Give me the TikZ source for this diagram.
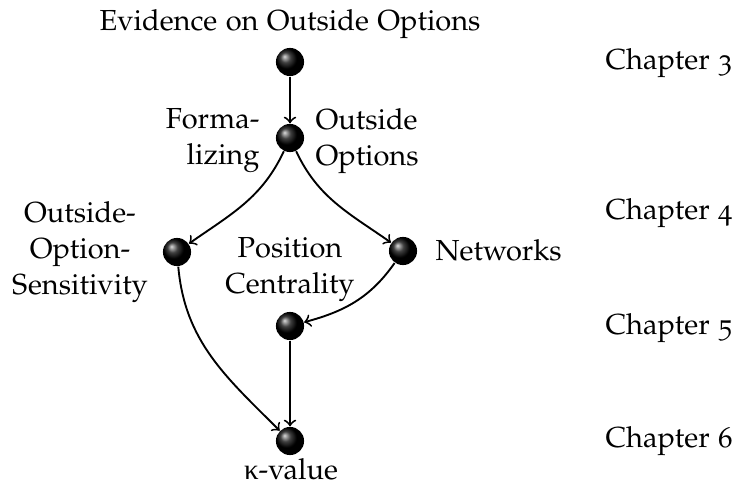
\documentclass[tikz,border=0pt]{standalone}
\usepackage{fontspec}
\newfontfamily\grkfont{Liberation Serif}
\usepackage[T1]{fontenc}
\usepackage[osf]{mathpazo}
\begin{document}
\begin{tikzpicture}[x=0.345pt,y=-0.345pt,
  every node/.style={font=\fontsize{10}{12.4}\selectfont},
  ballnode/.style={circle,shading=ball,ball color=black,minimum size=9.7pt,inner sep=0pt},
  lbl/.style={inner sep=0pt},
  conn/.style={->,line width=0.65pt}]
\useasboundingbox (0,0) rectangle (736,488);
% balls
\node[ballnode] (A) at (290,62) {};
\node[ballnode] (B) at (290,138) {};
\node[ballnode] (C) at (177,252) {};
\node[ballnode] (D) at (403,251) {};
\node[ballnode] (E) at (290,326) {};
\node[ballnode] (F) at (290,441) {};
% labels
\node[lbl,anchor=base] (tEv) at (290,31) {Evidence on Outside Options};
\node[lbl,anchor=east,align=right] (tForm) at (260,141) {Forma-\\lizing};
\node[lbl,anchor=west,align=left] (tOO) at (315,141) {Outside\\Options};
\node[lbl,align=center] (tOOS) at (80,252) {Outside-\\Option-\\Sensitivity};
\node[lbl,align=center] (tPC) at (290,270) {Position\\Centrality};
\node[lbl,anchor=base west] (tNet) at (435,261) {Networks};
\node[lbl,anchor=base] (tKap) at (291,479) {{\grkfont κ}-value};
\node[lbl,anchor=base west] (ch3) at (605,70) {Chapter 3};
\node[lbl,anchor=base west] (ch4) at (605,220) {Chapter 4};
\node[lbl,anchor=base west] (ch5) at (605,334) {Chapter 5};
\node[lbl,anchor=base west] (ch6) at (605,447) {Chapter 6};
% connectors
\draw[conn] (A) -- (B);
\draw[conn] (B) to[out=-115,in=35] (C);
\draw[conn] (B) to[out=-65,in=145] (D);
\draw[conn] (C) to[out=-85,in=135] (F);
\draw[conn] (D) to[out=-125,in=15] (E);
\draw[conn] (E) -- (F);
\end{tikzpicture}
\end{document}
